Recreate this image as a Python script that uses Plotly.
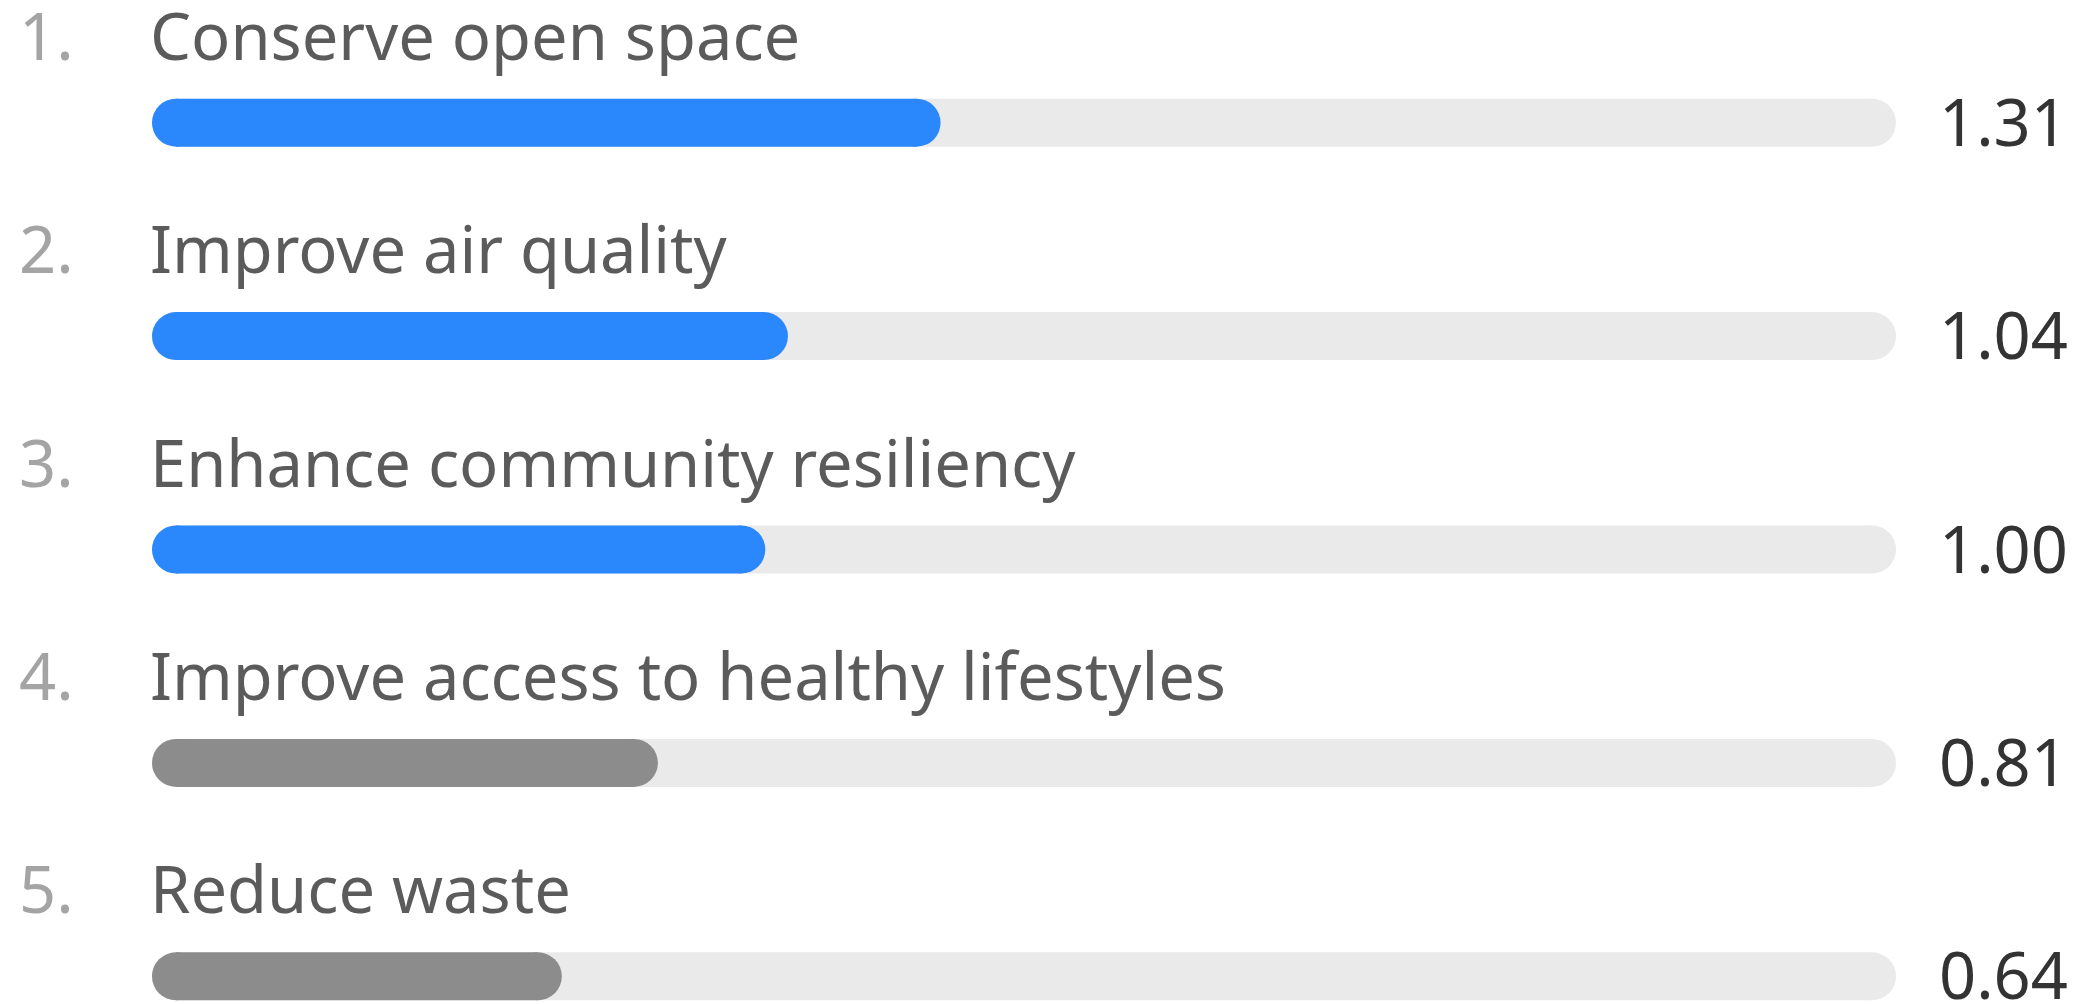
import plotly.graph_objects as go

# ---- data ----
ranks = ["1.", "2.", "3.", "4.", "5."]
categories = [
    "Conserve open space",
    "Improve air quality",
    "Enhance community resiliency",
    "Improve access to healthy lifestyles",
    "Reduce waste",
]
scores = [1.31, 1.04, 1.00, 0.81, 0.64]
score_labels = ["1.31", "1.04", "1.00", "0.81", "0.64"]
scale_max = 3.0
highlight_count = 3

# ---- style ----
PAGE_MARGIN = 8          # default body margin of the html page
W, H = 2083 - PAGE_MARGIN, 1004 - PAGE_MARGIN
BAR_PX = 48
BLUE = "#2b87fc"
GREY = "#8c8c8c"
TRACK = "#eaeaea"
LABEL_C = "#5b5b5b"
RANK_C = "#a4a4a4"
VALUE_C = "#333333"
FONT = "Noto Sans"
FS = 65

# pixel layout (page pixels) -> axis ranges
x0_px, x3_px = 176.0 - PAGE_MARGIN, 1872.0 - PAGE_MARGIN
px_per_unit = (x3_px - x0_px) / scale_max
xmin = -x0_px / px_per_unit
xmax = xmin + W / px_per_unit
row0_px, row_gap_px = 122.7 - PAGE_MARGIN, 213.4
ytop = -row0_px / row_gap_px
ybot = (H - row0_px) / row_gap_px

fig = go.Figure()
for i, (v, cat) in enumerate(zip(scores, categories)):
    fig.add_trace(go.Scatter(
        x=[0, scale_max], y=[i, i], mode="lines+markers",
        line=dict(color=TRACK, width=BAR_PX),
        marker=dict(color=TRACK, size=BAR_PX, line=dict(width=0)),
        hoverinfo="skip", showlegend=False))
    col = BLUE if i < highlight_count else GREY
    fig.add_trace(go.Scatter(
        x=[0, v], y=[i, i], mode="lines+markers",
        line=dict(color=col, width=BAR_PX),
        marker=dict(color=col, size=BAR_PX, line=dict(width=0)),
        name=cat, hovertemplate=cat + ": %{x:.2f}<extra></extra>",
        showlegend=False))

annotations = []
for i, (r, cat, lab) in enumerate(zip(ranks, categories, score_labels)):
    annotations.append(dict(
        x=9 / W, xref="paper", y=i, yref="y", yshift=88,
        text=r, showarrow=False, xanchor="left", yanchor="middle",
        font=dict(family=FONT, size=FS, color=RANK_C)))
    annotations.append(dict(
        x=140 / W, xref="paper", y=i, yref="y", yshift=88,
        text=cat, showarrow=False, xanchor="left", yanchor="middle",
        font=dict(family=FONT, size=FS, color=LABEL_C)))
    annotations.append(dict(
        x=1929 / W, xref="paper", y=i, yref="y", yshift=2,
        text=lab, showarrow=False, xanchor="left", yanchor="middle",
        font=dict(family=FONT, size=FS, color=VALUE_C)))

fig.update_layout(
    width=W, height=H,
    margin=dict(l=0, r=0, t=0, b=0),
    paper_bgcolor="white", plot_bgcolor="white",
    xaxis=dict(range=[xmin, xmax], visible=False, fixedrange=True),
    yaxis=dict(range=[ybot, ytop], visible=False, fixedrange=True),
    annotations=annotations,
    font=dict(family=FONT),
)

fig.write_html("out.html")
